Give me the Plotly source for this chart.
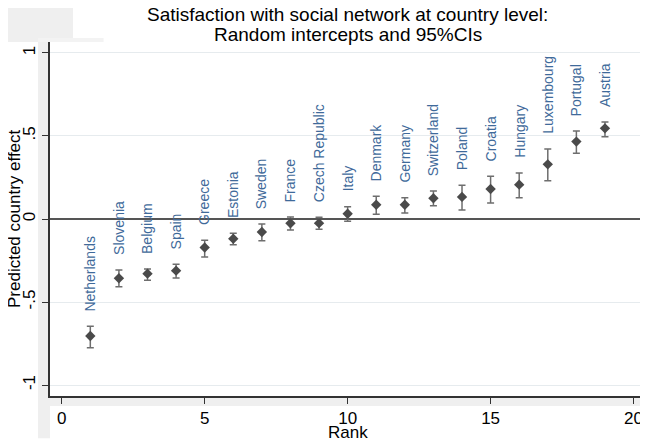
import plotly.graph_objects as go

countries = ["Netherlands", "Slovenia", "Belgium", "Spain", "Greece", "Estonia", "Sweden",
             "France", "Czech Republic", "Italy", "Denmark", "Germany", "Switzerland",
             "Poland", "Croatia", "Hungary", "Luxembourg", "Portugal", "Austria"]
rank = list(range(1, 20))
effect = [-0.705, -0.357, -0.329, -0.311, -0.172, -0.119, -0.078, -0.026, -0.025, 0.032,
          0.086, 0.086, 0.125, 0.133, 0.181, 0.207, 0.329, 0.466, 0.546]
upper = [-0.646, -0.307, -0.301, -0.273, -0.128, -0.086, -0.030, 0.012, 0.011, 0.074,
         0.137, 0.128, 0.169, 0.203, 0.257, 0.277, 0.422, 0.530, 0.584]
lower = [-0.775, -0.408, -0.369, -0.355, -0.229, -0.155, -0.131, -0.066, -0.061, -0.014,
         0.028, 0.036, 0.080, 0.054, 0.096, 0.128, 0.231, 0.396, 0.496]
y_ticks = [-1, -0.5, 0, 0.5, 1]
y_ticktext = ["-1", "-.5", "0", ".5", "1"]
x_ticks = [0, 5, 10, 15, 20]
title_lines = ["Satisfaction with social network at country level:", "Random intercepts and 95%CIs"]

err_plus = [u - e for u, e in zip(upper, effect)]
err_minus = [e - l for e, l in zip(effect, lower)]

font_main = "Liberation Sans, Arial, sans-serif"

fig = go.Figure()
fig.add_trace(go.Scatter(
    x=rank, y=effect, mode="markers",
    marker=dict(symbol="diamond", size=8, color="#4a4a4a"),
    error_y=dict(type="data", symmetric=False, array=err_plus, arrayminus=err_minus,
                 color="#6e6e6e", thickness=1.5, width=3.5),
    showlegend=False, cliponaxis=False,
))

annotations = []
for c, r, u in zip(countries, rank, upper):
    annotations.append(dict(x=r, y=u, xref="x", yref="y", text=c, showarrow=False,
                            textangle=-90, xanchor="center", yanchor="bottom", yshift=13,
                            font=dict(family=font_main, size=14, color="#3f6a9a")))

# title lines
annotations.append(dict(x=0.5, y=1.0763, xref="paper", yref="paper", text=title_lines[0],
                        showarrow=False, xanchor="center", yanchor="middle",
                        font=dict(family=font_main, size=19, color="black")))
annotations.append(dict(x=0.5, y=1.0212, xref="paper", yref="paper", text=title_lines[1],
                        showarrow=False, xanchor="center", yanchor="middle",
                        font=dict(family=font_main, size=19, color="black")))
# axis titles
annotations.append(dict(x=-0.0605, y=0.5, xref="paper", yref="paper", text="Predicted country effect",
                        showarrow=False, textangle=-90, xanchor="center", yanchor="middle",
                        font=dict(family=font_main, size=17, color="black")))
annotations.append(dict(x=0.5, y=-0.104, xref="paper", yref="paper", text="Rank",
                        showarrow=False, xanchor="center", yanchor="middle",
                        font=dict(family=font_main, size=17, color="black")))

shapes = [
    dict(type="rect", xref="paper", yref="paper", x0=-0.079, x1=0.0387, y0=1.0, y1=1.12,
         fillcolor="#efefef", line=dict(width=0), layer="below"),
    dict(type="rect", xref="paper", yref="paper", x0=-0.0202, x1=0.09, y0=1.0, y1=1.011,
         fillcolor="#f3f3f3", line=dict(width=0), layer="below"),
    dict(type="rect", xref="paper", yref="paper", x0=-0.0202, x1=0.0, y0=-0.119, y1=1.0,
         fillcolor="#efefef", line=dict(width=0), layer="below"),
    dict(type="rect", xref="paper", yref="paper", x0=-0.0202, x1=1.0, y0=-0.028, y1=-0.005,
         fillcolor="#efefef", line=dict(width=0), layer="below"),
]

# The page body has an 8px default margin; size the figure so that the plot
# area lands where it does in the 648x442 reference window.
fig.update_layout(
    width=640, height=434,
    margin=dict(l=42, r=3, t=34, b=46, autoexpand=False),
    paper_bgcolor="white", plot_bgcolor="white",
    font=dict(family=font_main, color="black"),
    annotations=annotations,
    shapes=shapes,
    xaxis=dict(range=[-0.41, 20.4], tickvals=x_ticks, showgrid=False, zeroline=False,
               automargin=False,
               showline=True, linecolor="#333333", linewidth=1.5,
               ticks="outside", ticklen=6, tickcolor="#333333", tickwidth=1.2,
               tickfont=dict(size=17, family=font_main, color="black")),
    yaxis=dict(range=[-1.066, 1.066], tickvals=y_ticks, ticktext=y_ticktext, tickangle=-90,
               automargin=False, ticklabelstandoff=0,
               showgrid=True, gridcolor="#e6ebee", gridwidth=1,
               zeroline=True, zerolinecolor="#555555", zerolinewidth=1.5,
               showline=True, linecolor="#333333", linewidth=1.5,
               ticks="outside", ticklen=6, tickcolor="#333333", tickwidth=1.2,
               tickfont=dict(size=17, family=font_main, color="black")),
)

fig.write_html("out.html")
